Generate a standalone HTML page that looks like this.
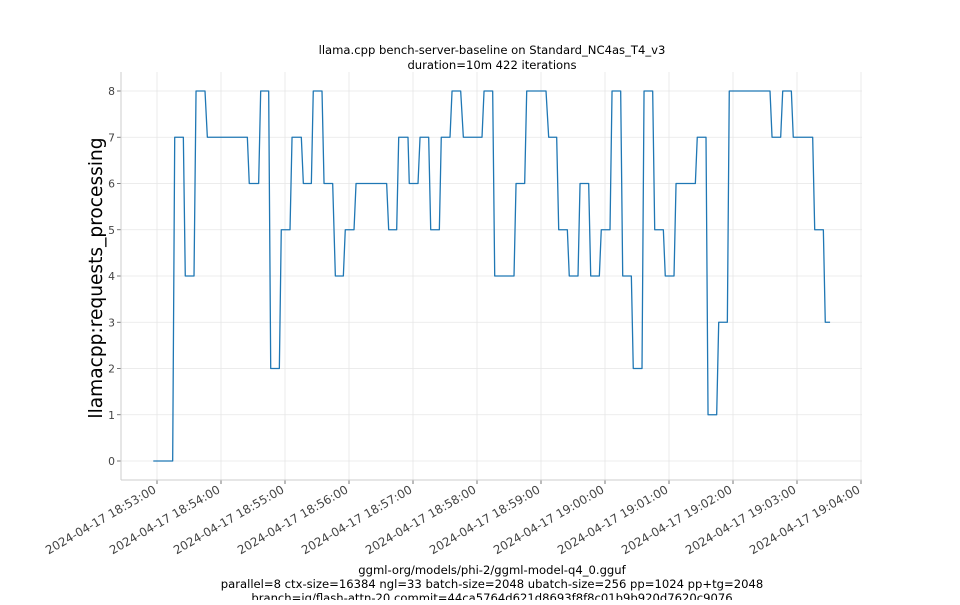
<!DOCTYPE html>
<html><head><meta charset="utf-8"><style>
body{margin:0;background:#fff;}
svg text{font-family:"DejaVu Sans","Liberation Sans",sans-serif;}
</style></head><body>
<svg id="chart" width="960" height="600" viewBox="0 0 960 600" xmlns="http://www.w3.org/2000/svg">
<rect x="0" y="0" width="960" height="600" fill="#fff"/>
<text x="492" y="54" font-size="11.6" text-anchor="middle" fill="#000">llama.cpp bench-server-baseline on Standard_NC4as_T4_v3</text>
<text x="492" y="69" font-size="11.6" text-anchor="middle" fill="#000">duration=10m 422 iterations</text>
<g id="grid"></g>
<g id="axes"></g>
<g id="series"></g>
<text transform="translate(102,278) rotate(-90)" font-size="18.6" text-anchor="middle" fill="#000">llamacpp:requests_processing</text>
<text x="492" y="574" font-size="11.6" text-anchor="middle" fill="#000">ggml-org/models/phi-2/ggml-model-q4_0.gguf</text>
<text x="492" y="588" font-size="11.6" text-anchor="middle" fill="#000">parallel=8 ctx-size=16384 ngl=33 batch-size=2048 ubatch-size=256 pp=1024 pp+tg=2048</text>
<text x="492" y="602" font-size="11.6" text-anchor="middle" fill="#000">branch=jg/flash-attn-20 commit=44ca5764d621d8693f8f8c01b9b920d7620c9076</text>
</svg>
<script>
// seconds after 2024-04-17 18:53:00
const times = [-3.5,14.7,16.6,24.7,26.5,34.7,36.6,45,47.2,84.7,86.5,95.3,97.2,104.7,106.6,114.7,116.5,124.7,126.6,135.3,137.2,144.7,146.5,154.7,156.6,164.7,167.2,174.7,176.5,184.7,186.6,215.3,217.2,224.7,226.6,235.3,236.5,244.7,246.6,254.7,256.6,264.7,266.5,274.7,276.6,284.7,287.2,304.7,306.6,314.7,316.6,334.7,336.6,344.7,346.6,364.7,367.2,374.7,376.6,384.7,386.5,394.7,396.6,404.7,406.6,414.7,416.5,424.7,426.6,434.7,436.6,444.7,446.5,454.7,456.6,464.7,466.6,474.7,476.5,484.7,486.6,504.7,506.5,514.7,516.6,524.7,526.6,534.7,536.5,574.7,576.6,584.7,586.6,594.7,596.5,614.7,616.6,624.7,626.5,631];
const values = [0,0,7,7,4,4,8,8,7,7,6,6,8,8,2,2,5,5,7,7,6,6,8,8,6,6,4,4,5,5,6,6,5,5,7,7,6,6,7,7,5,5,7,7,8,8,7,7,8,8,4,4,6,6,8,8,7,7,5,5,4,4,6,6,4,4,5,5,8,8,4,4,2,2,8,8,5,5,4,4,6,6,7,7,1,1,3,3,8,8,7,7,8,8,7,7,5,5,3,3];
const yTicks = [0,1,2,3,4,5,6,7,8];
const xTickMinutes = [0,1,2,3,4,5,6,7,8,9,10,11];
const xTickLabels = ["2024-04-17 18:53:00","2024-04-17 18:54:00","2024-04-17 18:55:00","2024-04-17 18:56:00","2024-04-17 18:57:00","2024-04-17 18:58:00","2024-04-17 18:59:00","2024-04-17 19:00:00","2024-04-17 19:01:00","2024-04-17 19:02:00","2024-04-17 19:03:00","2024-04-17 19:04:00"];

const NS = "http://www.w3.org/2000/svg";
const L = 121, R = 862, T = 72, B = 480;
const xs = s => 157 + s * 64 / 60;
const ys = v => 461 - v * 46.25;
function mk(tag, attrs, parent) {
  const e = document.createElementNS(NS, tag);
  for (const k in attrs) e.setAttribute(k, attrs[k]);
  parent.appendChild(e);
  return e;
}
const grid = document.getElementById('grid');
const axes = document.getElementById('axes');
const series = document.getElementById('series');

yTicks.forEach(v => {
  const y = ys(v);
  const g = mk('line', {x1: L, x2: R, y1: y, y2: y, stroke: '#e6e6e6', 'stroke-width': 0.8}, grid);
  
  
  const t = mk('line', {x1: L - 4, x2: L, y1: y, y2: y, stroke: '#555', 'stroke-width': 0.8}, axes);
  
  
  const tx = mk('text', {x: L - 6, y: y + 4, 'font-size': 10.8, 'text-anchor': 'end', fill: '#444'}, axes);
  tx.textContent = v;
  
  
});
xTickMinutes.forEach((m, i) => {
  const x = xs(m * 60);
  const g = mk('line', {x1: x, x2: x, y1: T, y2: B, stroke: '#e6e6e6', 'stroke-width': 0.8}, grid);
  
  
  const t = mk('line', {x1: x, x2: x, y1: B, y2: B + 4, stroke: '#555', 'stroke-width': 0.8}, axes);
  
  
  const tx = mk('text', {x: x, y: B + 12, 'font-size': 11.8, 'text-anchor': 'end', fill: '#444', transform: `rotate(-30 ${x} ${B + 12})`}, axes);
  tx.textContent = xTickLabels[i];
  
  
});
const spL = mk('line', {x1: L, x2: L, y1: T, y2: B, stroke: '#ccc', 'stroke-width': 1}, axes);


const spB = mk('line', {x1: L, x2: R, y1: B, y2: B, stroke: '#ccc', 'stroke-width': 1}, axes);



const pts = times.map((t, i) => xs(t).toFixed(2) + ',' + ys(values[i]).toFixed(2)).join(' ');
const line = mk('polyline', {points: pts, fill: 'none', stroke: '#1f77b4', 'stroke-width': 1.3, 'stroke-linejoin': 'round'}, series);


</script>
</body></html>
